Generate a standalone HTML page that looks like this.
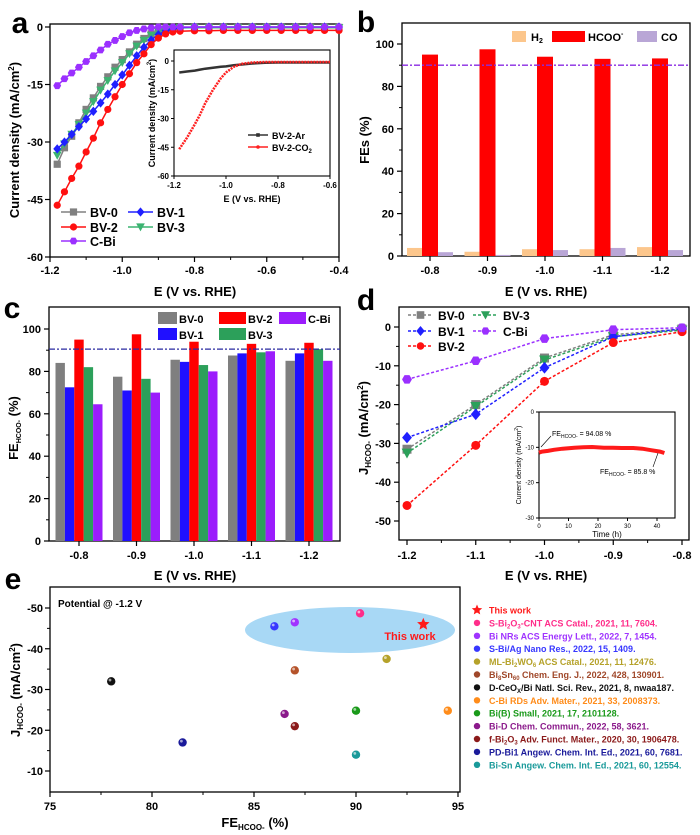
<!DOCTYPE html>
<html><head><meta charset="utf-8"><style>
html,body{margin:0;padding:0;background:#fff}
svg{display:block;font-family:"Liberation Sans",sans-serif;font-weight:bold}
</style></head><body>
<svg id="fig" width="700" height="835" viewBox="0 0 700 835" xmlns="http://www.w3.org/2000/svg"></svg>
<script>
// ---------- Panel a data ----------
const aE = [-1.18,-1.16,-1.14,-1.12,-1.10,-1.08,-1.06,-1.04,-1.02,-1.00,-0.98,-0.96,-0.94,-0.92,-0.90,-0.88,-0.86,-0.84,-0.80,-0.76,-0.72,-0.68,-0.64,-0.60,-0.56,-0.52,-0.48,-0.44,-0.40];
const aBV0 = [-35.8,-31.5,-28.5,-25,-21.5,-18.5,-15.5,-13,-10.5,-8.5,-6.5,-4.5,-3,-1.8,-1,-0.5,-0.3,-0.2,-0.1,-0.1,-0.1,-0.1,-0.1,-0.1,-0.1,-0.1,-0.1,-0.1,-0.1];
const aBV1 = [-31.8,-30,-28,-26,-24,-22,-19.8,-17.5,-15,-12.5,-10,-7.5,-5.3,-3.4,-2,-1,-0.5,-0.2,0,0,0,0,0,0,0,0,0,0,0];
const aBV2 = [-46.5,-43,-39.5,-36.3,-32.6,-29,-25,-21.5,-18.2,-15,-12.2,-9.3,-7,-4.6,-2.9,-1.8,-1.3,-1.1,-1,-1,-0.9,-0.9,-0.9,-0.9,-0.9,-0.9,-0.9,-0.9,-0.9];
const aBV3 = [-33.5,-30.5,-28,-25.5,-22.5,-19.5,-16.5,-14,-11.5,-9.3,-7,-5,-3.5,-2.2,-1.2,-0.6,-0.3,-0.2,-0.2,-0.2,-0.2,-0.2,-0.2,-0.2,-0.2,-0.2,-0.2,-0.2,-0.2];
const aCBi = [-15.3,-13.5,-12,-10.5,-9,-7.5,-6,-4.5,-3.5,-2.5,-1.5,-0.9,-0.5,-0.2,0,0,0,0,0,0,0,0,0,0,0,0,0,0,0];
const aXTicks = [-1.2,-1.0,-0.8,-0.6,-0.4];
const aYTicks = [0,-15,-30,-45,-60];
// inset a
const iaE = [-1.18,-1.15,-1.12,-1.10,-1.08,-1.05,-1.02,-1.00,-0.97,-0.94,-0.90,-0.85,-0.80,-0.70,-0.60];
const iaCO2 = [-46,-40,-33,-28,-22,-15,-9,-6,-3,-1.5,-0.8,-0.5,-0.5,-0.5,-0.5];
const iaAr = [-6,-5.5,-5,-4.5,-4,-3.5,-3,-2.8,-2.2,-1.8,-1.3,-0.9,-0.8,-0.8,-0.8];
const iaXTicks = [-1.2,-1.0,-0.8,-0.6];
// ---------- Panel b data ----------
const bCats = ['-0.8','-0.9','-1.0','-1.1','-1.2'];
const bH2 = [3.8,2,3.2,3.2,4.2];
const bHCOO = [95,97.5,94,93,93.2];
const bCO = [1.8,0.5,2.8,3.8,2.8];
const bYTicks = [0,20,40,60,80,100];
// ---------- Panel c data ----------
const cCats = ['-0.8','-0.9','-1.0','-1.1','-1.2'];
const cBV0 = [84,77.5,85.5,87.5,85];
const cBV1 = [72.5,71,84.5,88.5,88.5];
const cBV2 = [95,97.5,94,93,93.5];
const cBV3 = [82,76.5,83,89,90.5];
const cCBi = [64.5,70,80,89.5,85];
// ---------- Panel d data ----------
const dE = [-1.2,-1.1,-1.0,-0.9,-0.8];
const dBV0 = [-31.5,-20,-8,-2,-0.5];
const dBV1 = [-28.5,-22.5,-10.5,-2.5,-0.5];
const dBV2 = [-46,-30.5,-14,-4,-1.2];
const dBV3 = [-32.5,-20.5,-8.5,-2.5,-0.8];
const dCBi = [-13.5,-8.7,-3,-0.7,-0.2];
const dXTicks = [-1.2,-1.1,-1.0,-0.9,-0.8];
const dYTicks = [0,-10,-20,-30,-40,-50];
const idT = [0,1,3,5,8,12,15,18,22,25,28,32,35,38,41,42.5];
const idJ = [-11.5,-11.2,-11,-10.7,-10.4,-10.1,-10,-9.9,-10.1,-10.1,-10.2,-10.2,-10.4,-10.8,-11.2,-11.6];
// ---------- Panel e data ----------
const eNames = ['S-Bi2O3-CNT','Bi NRs','S-Bi/Ag','ML-Bi2WO6','Bi8Sn60','D-CeOx/Bi','C-Bi RDs','Bi(B)','Bi-D','f-Bi2O3','PD-Bi1','Bi-Sn'];
const eFE = [90.2,87,86,91.5,87,78,94.5,90,86.5,87,81.5,90];
const eJ = [-48.7,-46.5,-45.5,-37.5,-34.7,-32,-24.8,-24.8,-24,-21,-17,-14];
const eColors = ['#ff2d8a','#a033ff','#3838ff','#b5a22a','#b5532a','#111111','#ff8c1a','#1a9a1a','#8b1a8b','#8b1a1a','#1a1a9a','#1a9a9a'];
const eStar = [93.3,-46];
const eXTicks = [75,80,85,90,95];
const eYTicks = [-50,-40,-30,-20,-10];

const NS='http://www.w3.org/2000/svg';
const svg=document.getElementById('fig');
function add(parent,tag,attrs,name){
  const el=document.createElementNS(NS,tag);
  for(const k in attrs) el.setAttribute(k,attrs[k]);
  
  
  parent.appendChild(el);
  return el;
}
function lin(d0,d1,r0,r1){return v=>r0+(v-d0)*(r1-r0)/(d1-d0);}
function txt(p,x,y,s,size,name,anchor,extra){
  const t=add(p,'text',Object.assign({x:x,y:y,'font-size':size,'text-anchor':anchor||'middle',fill:'#000'},extra||{}),name);
  t.innerHTML=s; return t;
}
function frame(p,x0,y0,x1,y1,name){
  add(p,'rect',{x:x0,y:y0,width:x1-x0,height:y1-y0,fill:'none',stroke:'#000','stroke-width':1.3},name);
}
function marker(p,type,x,y,r,color,name){
  let el;
  if(type==='sq') el=add(p,'rect',{x:x-r,y:y-r,width:2*r,height:2*r,fill:color},name);
  else if(type==='dia') el=add(p,'polygon',{points:`${x},${y-r*1.3} ${x+r*1.1},${y} ${x},${y+r*1.3} ${x-r*1.1},${y}`,fill:color},name);
  else if(type==='tri') el=add(p,'polygon',{points:`${x-r*1.2},${y-r} ${x+r*1.2},${y-r} ${x},${y+r*1.2}`,fill:color},name);
  else if(type==='hex'){let pts=[];for(let i=0;i<6;i++){const a=Math.PI/3*i;pts.push((x+r*1.1*Math.cos(a))+','+(y+r*1.1*Math.sin(a)));}el=add(p,'polygon',{points:pts.join(' '),fill:color},name);}
  else el=add(p,'circle',{cx:x,cy:y,r:r,fill:color},name);
  return el;
}
function pathD(xs,ys,sx,sy){return xs.map((v,i)=>(i?'L':'M')+sx(v).toFixed(1)+','+sy(ys[i]).toFixed(1)).join(' ');}

// ===== Panel a =====
const ga=add(svg,'g',{},'panel-a');
txt(ga,20,33,'a',30,'panel-a-label');
const ax=lin(-1.2,-0.4,50,339), ay=lin(0,-60,27,257);
frame(ga,50,24,339,257,'panel-a-frame');
aXTicks.forEach(v=>{add(ga,'line',{x1:ax(v),x2:ax(v),y1:257,y2:262,stroke:'#000','stroke-width':1.2},'x-tick');txt(ga,ax(v),274,v.toFixed(1),11,'x-tick-label');});
[-1.1,-0.9,-0.7,-0.5].forEach(v=>add(ga,'line',{x1:ax(v),x2:ax(v),y1:257,y2:260,stroke:'#000'},'x-minor-tick'));
aYTicks.forEach(v=>{add(ga,'line',{x1:45,x2:50,y1:ay(v),y2:ay(v),stroke:'#000','stroke-width':1.2},'y-tick');txt(ga,43,ay(v)+4,String(v),11,'y-tick-label','end');});
txt(ga,195,296,'E (V vs. RHE)',13,'x-axis-title');
txt(ga,0,0,'Current density (mA/cm<tspan font-size="8" dy="-5">2</tspan><tspan dy="5">)</tspan>',13,'y-axis-title','middle',{transform:'translate(19,140) rotate(-90)'});
const aSeries=[['BV-0',aBV0,'#808080','sq'],['BV-3',aBV3,'#3cb371','tri'],['BV-1',aBV1,'#2020ff','dia'],['BV-2',aBV2,'#ff1010','circ'],['C-Bi',aCBi,'#9b30ff','hex']];
aSeries.forEach(s=>{
  const g=add(ga,'g',{},'series-'+s[0].toLowerCase());
  add(g,'path',{d:pathD(aE,s[1],ax,ay),fill:'none',stroke:s[2],'stroke-width':1.5},'curve-line');
  aE.forEach((e,i)=>marker(g,s[3],ax(e),ay(s[1][i]),3.6,s[2],'curve-point'));
});
[['BV-0','#808080','sq',61,212],['BV-1','#2020ff','dia',128,212],['BV-2','#ff1010','circ',61,227],['BV-3','#3cb371','tri',128,227],['C-Bi','#9b30ff','hex',61,241]].forEach(l=>{
  const g=add(ga,'g',{},'legend-entry');
  add(g,'line',{x1:l[3],x2:l[3]+25,y1:l[4],y2:l[4],stroke:l[1],'stroke-width':1.5},'legend-line');
  marker(g,l[2],l[3]+12.5,l[4],3.6,l[1],'legend-marker');
  txt(g,l[3]+29,l[4]+5,l[0],12.5,'legend-label','start');
});
const gia=add(ga,'g',{},'inset-a');
const iax=lin(-1.2,-0.6,174,330), iay=lin(0,-60,61,176);
add(gia,'rect',{x:174,y:50,width:156,height:126,fill:'#fff',stroke:'#000','stroke-width':1.1},'inset-a-frame');
iaXTicks.forEach(v=>{add(gia,'line',{x1:iax(v),x2:iax(v),y1:176,y2:179,stroke:'#000'},'x-tick');txt(gia,iax(v),188,v.toFixed(1),8,'x-tick-label');});
aYTicks.forEach(v=>{add(gia,'line',{x1:171,x2:174,y1:iay(v),y2:iay(v),stroke:'#000'},'y-tick');txt(gia,169,iay(v)+3,String(v),8,'y-tick-label','end');});
txt(gia,252,202,'E (V vs. RHE)',9,'x-axis-title');
txt(gia,0,0,'Current density (mA/cm<tspan font-size="6" dy="-4">2</tspan><tspan dy="4">)</tspan>',9,'y-axis-title','middle',{transform:'translate(155,113) rotate(-90)'});
add(gia,'path',{d:pathD(iaE,iaAr,iax,iay),fill:'none',stroke:'#333','stroke-width':2.5},'ar-curve');
add(gia,'path',{d:pathD(iaE,iaCO2,iax,iay),fill:'none',stroke:'#ff2020','stroke-width':2.5,'stroke-dasharray':'2 1'},'co2-curve');
add(gia,'line',{x1:248,x2:268,y1:135,y2:135,stroke:'#333','stroke-width':1.5},'legend-line');
marker(gia,'sq',258,135,1.8,'#333','legend-marker');
txt(gia,272,139,'BV-2-Ar',9,'legend-label','start');
add(gia,'line',{x1:248,x2:268,y1:147,y2:147,stroke:'#ff2020','stroke-width':1.5},'legend-line');
marker(gia,'circ',258,147,1.8,'#ff2020','legend-marker');
txt(gia,272,151,'BV-2-CO<tspan font-size="6" dy="2">2</tspan>',9,'legend-label','start');

// ===== Panel b =====
const gb=add(svg,'g',{},'panel-b');
txt(gb,366,32,'b',30,'panel-b-label');
const bx=i=>430+i*57.5, by=lin(0,100,256,44);
frame(gb,402,23,690,256,'panel-b-frame');
bYTicks.forEach(v=>{add(gb,'line',{x1:397,x2:402,y1:by(v),y2:by(v),stroke:'#000','stroke-width':1.2},'y-tick');txt(gb,394,by(v)+4,String(v),11,'y-tick-label','end');});
[10,30,50,70,90,110].forEach(v=>{if(by(v)>23)add(gb,'line',{x1:399,x2:402,y1:by(v),y2:by(v),stroke:'#000'},'y-minor-tick');});
bCats.forEach((c,i)=>{add(gb,'line',{x1:bx(i),x2:bx(i),y1:256,y2:261,stroke:'#000','stroke-width':1.2},'x-tick');txt(gb,bx(i),274,c,11,'x-tick-label');});
bCats.forEach((c,i)=>{
  add(gb,'rect',{x:bx(i)-23,y:by(bH2[i]),width:15,height:256-by(bH2[i]),fill:'#fcc68c'},'bar-h2');
  add(gb,'rect',{x:bx(i)-8,y:by(bHCOO[i]),width:16,height:256-by(bHCOO[i]),fill:'#ff0000'},'bar-hcoo');
  add(gb,'rect',{x:bx(i)+8,y:by(bCO[i]),width:15,height:256-by(bCO[i]),fill:'#b9a6d6'},'bar-co');
});
add(gb,'line',{x1:402,x2:690,y1:by(90),y2:by(90),stroke:'#8a2be2','stroke-width':1.3,'stroke-dasharray':'6 2 2 2'},'reference-line-90');
add(gb,'rect',{x:512,y:31,width:14,height:11,fill:'#fcc68c'},'legend-swatch-h2');
txt(gb,531,41,'H<tspan font-size="7" dy="2">2</tspan>',11,'legend-label-h2','start');
add(gb,'rect',{x:552,y:31,width:33,height:11,fill:'#ff0000'},'legend-swatch-hcoo');
txt(gb,588,41,'HCOO<tspan font-size="7" dy="-5">-</tspan>',11,'legend-label-hcoo','start');
add(gb,'rect',{x:637,y:31,width:20,height:11,fill:'#b9a6d6'},'legend-swatch-co');
txt(gb,661,41,'CO',11,'legend-label-co','start');
txt(gb,546,296,'E (V vs. RHE)',13,'x-axis-title');
txt(gb,0,0,'FEs (%)',13,'y-axis-title','middle',{transform:'translate(369,140) rotate(-90)'});

// ===== Panel c =====
const gc=add(svg,'g',{},'panel-c');
txt(gc,12,318,'c',30,'panel-c-label');
const cx=i=>79+i*57.5, cy=lin(0,100,541,329);
frame(gc,49,307,340,541,'panel-c-frame');
bYTicks.forEach(v=>{add(gc,'line',{x1:44,x2:49,y1:cy(v),y2:cy(v),stroke:'#000','stroke-width':1.2},'y-tick');txt(gc,41,cy(v)+4,String(v),11,'y-tick-label','end');});
[10,30,50,70,90].forEach(v=>add(gc,'line',{x1:46,x2:49,y1:cy(v),y2:cy(v),stroke:'#000'},'y-minor-tick'));
cCats.forEach((c,i)=>{add(gc,'line',{x1:cx(i),x2:cx(i),y1:541,y2:546,stroke:'#000','stroke-width':1.2},'x-tick');txt(gc,cx(i),559,c,11,'x-tick-label');});
const cSeries=[['bv-0',cBV0,'#7f7f7f'],['bv-1',cBV1,'#2010ff'],['bv-2',cBV2,'#ff0000'],['bv-3',cBV3,'#2ca05a'],['c-bi',cCBi,'#9b1dfc']];
cCats.forEach((c,i)=>cSeries.forEach((s,k)=>{
  add(gc,'rect',{x:cx(i)-23.5+k*9.4,y:cy(s[1][i]),width:9.4,height:541-cy(s[1][i]),fill:s[2]},'bar-'+s[0]);
}));
add(gc,'line',{x1:49,x2:340,y1:cy(90.5),y2:cy(90.5),stroke:'#2a2aa0','stroke-width':1.2,'stroke-dasharray':'6 2 2 2'},'reference-line-90');
[['BV-0','#7f7f7f',158,312,19],['BV-2','#ff0000',219,312,27],['C-Bi','#9b1dfc',279,312,27],['BV-1','#2010ff',158,328,19],['BV-3','#2ca05a',219,328,27]].forEach(l=>{
  add(gc,'rect',{x:l[2],y:l[3],width:l[4],height:12,fill:l[1]},'legend-swatch');
  txt(gc,l[2]+l[4]+2,l[3]+11,l[0],11,'legend-label','start');
});
txt(gc,195,580,'E (V vs. RHE)',13,'x-axis-title');
txt(gc,0,0,'FE<tspan font-size="7" dy="3">HCOO-</tspan><tspan dy="-3"> (%)</tspan>',13,'y-axis-title','middle',{transform:'translate(18,428) rotate(-90)'});

// ===== Panel d =====
const gd=add(svg,'g',{},'panel-d');
txt(gd,366,310,'d',30,'panel-d-label');
const dx=lin(-1.2,-0.8,407,682), dy=lin(0,-50,327,521);
frame(gd,399,307,689,540,'panel-d-frame');
dYTicks.forEach(v=>{add(gd,'line',{x1:394,x2:399,y1:dy(v),y2:dy(v),stroke:'#000','stroke-width':1.2},'y-tick');txt(gd,391,dy(v)+4,String(v),11,'y-tick-label','end');});
[-5,-15,-25,-35,-45].forEach(v=>add(gd,'line',{x1:396,x2:399,y1:dy(v),y2:dy(v),stroke:'#000'},'y-minor-tick'));
dXTicks.forEach(v=>{add(gd,'line',{x1:dx(v),x2:dx(v),y1:540,y2:545,stroke:'#000','stroke-width':1.2},'x-tick');txt(gd,dx(v),559,v.toFixed(1),11,'x-tick-label');});
[-1.15,-1.05,-0.95,-0.85].forEach(v=>add(gd,'line',{x1:dx(v),x2:dx(v),y1:540,y2:543,stroke:'#000'},'x-minor-tick'));
const dSeries=[['BV-0',dBV0,'#808080','sq'],['BV-3',dBV3,'#2ca05a','tri'],['BV-1',dBV1,'#2020ff','dia'],['BV-2',dBV2,'#ff1010','circ'],['C-Bi',dCBi,'#9b30ff','hex']];
dSeries.forEach(s=>{
  const g=add(gd,'g',{},'series-'+s[0].toLowerCase());
  add(g,'path',{d:pathD(dE,s[1],dx,dy),fill:'none',stroke:s[2],'stroke-width':1.5,'stroke-dasharray':'3 2'},'series-line');
  dE.forEach((e,i)=>marker(g,s[3],dx(e),dy(s[1][i]),4.5,s[2],'series-point'));
});
[['BV-0','#808080','sq',408,315],['BV-3','#2ca05a','tri',473,315],['BV-1','#2020ff','dia',408,331],['C-Bi','#9b30ff','hex',473,331],['BV-2','#ff1010','circ',408,346]].forEach(l=>{
  const g=add(gd,'g',{},'legend-entry');
  add(g,'line',{x1:l[3],x2:l[3]+25,y1:l[4],y2:l[4],stroke:l[1],'stroke-width':1.5,'stroke-dasharray':'3 2'},'legend-line');
  marker(g,l[2],l[3]+12.5,l[4],3.8,l[1],'legend-marker');
  txt(g,l[3]+30,l[4]+5,l[0],12,'legend-label','start');
});
txt(gd,546,580,'E (V vs. RHE)',13,'x-axis-title');
txt(gd,0,0,'J<tspan font-size="8" dy="3">HCOO-</tspan><tspan dy="-3"> (mA/cm</tspan><tspan font-size="8" dy="-5">2</tspan><tspan dy="5">)</tspan>',13,'y-axis-title','middle',{transform:'translate(368,428) rotate(-90)'});
const gid=add(gd,'g',{},'inset-d');
const tx=lin(0,40,539,657), ty=lin(0,-30,412,518);
add(gid,'rect',{x:539,y:412,width:136,height:106,fill:'#fff',stroke:'#000','stroke-width':1.1},'inset-d-frame');
[0,10,20,30,40].forEach(v=>{add(gid,'line',{x1:tx(v),x2:tx(v),y1:518,y2:521,stroke:'#000'},'x-tick');txt(gid,tx(v),528,String(v),6,'x-tick-label','middle',{'font-weight':'normal'});});
[0,-10,-20,-30].forEach(v=>{add(gid,'line',{x1:536,x2:539,y1:ty(v),y2:ty(v),stroke:'#000'},'y-tick');txt(gid,534,ty(v)+2,String(v),6,'y-tick-label','end',{'font-weight':'normal'});});
txt(gid,607,537,'Time (h)',8,'x-axis-title','middle',{'font-weight':'normal'});
txt(gid,0,0,'Current density (mA/cm<tspan font-size="5" dy="-3">2</tspan><tspan dy="3">)</tspan>',7,'y-axis-title','middle',{transform:'translate(521,465) rotate(-90)','font-weight':'normal'});
add(gid,'path',{d:pathD(idT,idJ,tx,ty),fill:'none',stroke:'#ff1a1a','stroke-width':4},'stability-curve');
add(gid,'line',{x1:541,x2:551,y1:447,y2:436,stroke:'#000','stroke-width':0.6},'annotation-arrow');
txt(gid,552,436,'FE<tspan font-size="5" dy="2">HCOO-</tspan><tspan dy="-2"> = 94.08 %</tspan>',7,'annotation-start','start',{'font-weight':'normal'});
add(gid,'line',{x1:653,x2:658,y1:467,y2:453,stroke:'#000','stroke-width':0.6},'annotation-arrow');
txt(gid,600,474,'FE<tspan font-size="5" dy="2">HCOO-</tspan><tspan dy="-2"> = 85.8 %</tspan>',7,'annotation-end','start',{'font-weight':'normal'});

// ===== Panel e =====
const ge=add(svg,'g',{},'panel-e');
txt(ge,13,589,'e',30,'panel-e-label');
const ex=lin(75,95,50,458), ey=lin(-50,-10,608,771);
frame(ge,50,587,460,792,'panel-e-frame');
eXTicks.forEach(v=>{add(ge,'line',{x1:ex(v),x2:ex(v),y1:792,y2:797,stroke:'#000','stroke-width':1.2},'x-tick');txt(ge,ex(v),810,String(v),11,'x-tick-label');});
[77.5,82.5,87.5,92.5].forEach(v=>add(ge,'line',{x1:ex(v),x2:ex(v),y1:792,y2:795,stroke:'#000'},'x-minor-tick'));
eYTicks.forEach(v=>{add(ge,'line',{x1:45,x2:50,y1:ey(v),y2:ey(v),stroke:'#000','stroke-width':1.2},'y-tick');txt(ge,43,ey(v)+4,String(v),11,'y-tick-label','end');});
[-45,-35,-25,-15].forEach(v=>add(ge,'line',{x1:47,x2:50,y1:ey(v),y2:ey(v),stroke:'#000'},'y-minor-tick'));
add(ge,'ellipse',{cx:350,cy:630,rx:105,ry:23,fill:'#a8d8f5'},'highlight-ellipse');
txt(ge,58,607,'Potential @ -1.2 V',10,'potential-note','start');
txt(ge,255,827,'FE<tspan font-size="8" dy="3">HCOO-</tspan><tspan dy="-3"> (%)</tspan>',13,'x-axis-title');
txt(ge,0,0,'J<tspan font-size="8" dy="3">HCOO-</tspan><tspan dy="-3"> (mA/cm</tspan><tspan font-size="8" dy="-5">2</tspan><tspan dy="5">)</tspan>',13,'y-axis-title','middle',{transform:'translate(20,690) rotate(-90)'});
eFE.forEach((f,i)=>{
  marker(ge,'circ',ex(f),ey(eJ[i]),4.2,eColors[i],'point-'+eNames[i].toLowerCase().replace(/[^a-z0-9]+/g,'-'));
  add(ge,'circle',{cx:ex(f)-1.2,cy:ey(eJ[i])-1.3,r:1.4,fill:'#fff','fill-opacity':0.6},'point-highlight');
});
function star(p,x,y,r,color,name){let pts=[];for(let i=0;i<10;i++){const a=-Math.PI/2+i*Math.PI/5;const rr=i%2?r*0.45:r;pts.push((x+rr*Math.cos(a)).toFixed(1)+','+(y+rr*Math.sin(a)).toFixed(1));}return add(p,'polygon',{points:pts.join(' '),fill:color},name);}
star(ge,ex(eStar[0]),ey(eStar[1]),6.5,'#ff1a1a','point-this-work');
txt(ge,410,640,'This work',11,'this-work-label','middle',{fill:'#ff1a1a'});
const eLegend=[
 ['This work','#ff1a1a'],
 ['S-Bi<tspan font-size="6" dy="2">2</tspan><tspan dy="-2">O</tspan><tspan font-size="6" dy="2">3</tspan><tspan dy="-2">-CNT ACS Catal., 2021, 11, 7604.</tspan>','#ff2d8a'],
 ['Bi NRs ACS Energy Lett., 2022, 7, 1454.','#a033ff'],
 ['S-Bi/Ag Nano Res., 2022, 15, 1409.','#3838ff'],
 ['ML-Bi<tspan font-size="6" dy="2">2</tspan><tspan dy="-2">WO</tspan><tspan font-size="6" dy="2">6</tspan><tspan dy="-2"> ACS Catal., 2021, 11, 12476.</tspan>','#b5a22a'],
 ['Bi<tspan font-size="6" dy="2">8</tspan><tspan dy="-2">Sn</tspan><tspan font-size="6" dy="2">60</tspan><tspan dy="-2"> Chem. Eng. J., 2022, 428, 130901.</tspan>','#a0482a'],
 ['D-CeO<tspan font-size="6" dy="2">X</tspan><tspan dy="-2">/Bi Natl. Sci. Rev., 2021, 8, nwaa187.</tspan>','#111111'],
 ['C-Bi RDs Adv. Mater., 2021, 33, 2008373.','#ff8c1a'],
 ['Bi(B) Small, 2021, 17, 2101128.','#1a9a1a'],
 ['Bi-D Chem. Commun., 2022, 58, 3621.','#8b1a8b'],
 ['f-Bi<tspan font-size="6" dy="2">2</tspan><tspan dy="-2">O</tspan><tspan font-size="6" dy="2">3</tspan><tspan dy="-2"> Adv. Funct. Mater., 2020, 30, 1906478.</tspan>','#8b1a1a'],
 ['PD-Bi1 Angew. Chem. Int. Ed., 2021, 60, 7681.','#1a1a9a'],
 ['Bi-Sn Angew. Chem. Int. Ed., 2021, 60, 12554.','#1a9a9a']];
eLegend.forEach((l,i)=>{
  const y=610+i*12.9;
  const g=add(ge,'g',{},'legend-entry');
  if(i===0) star(g,477,y,5.5,l[1],'legend-marker');
  else marker(g,'circ',477,y,3.2,l[1],'legend-marker');
  txt(g,489,y+3.5,l[0],9,'legend-label','start',{fill:l[1]});
});
</script>
</body></html>
